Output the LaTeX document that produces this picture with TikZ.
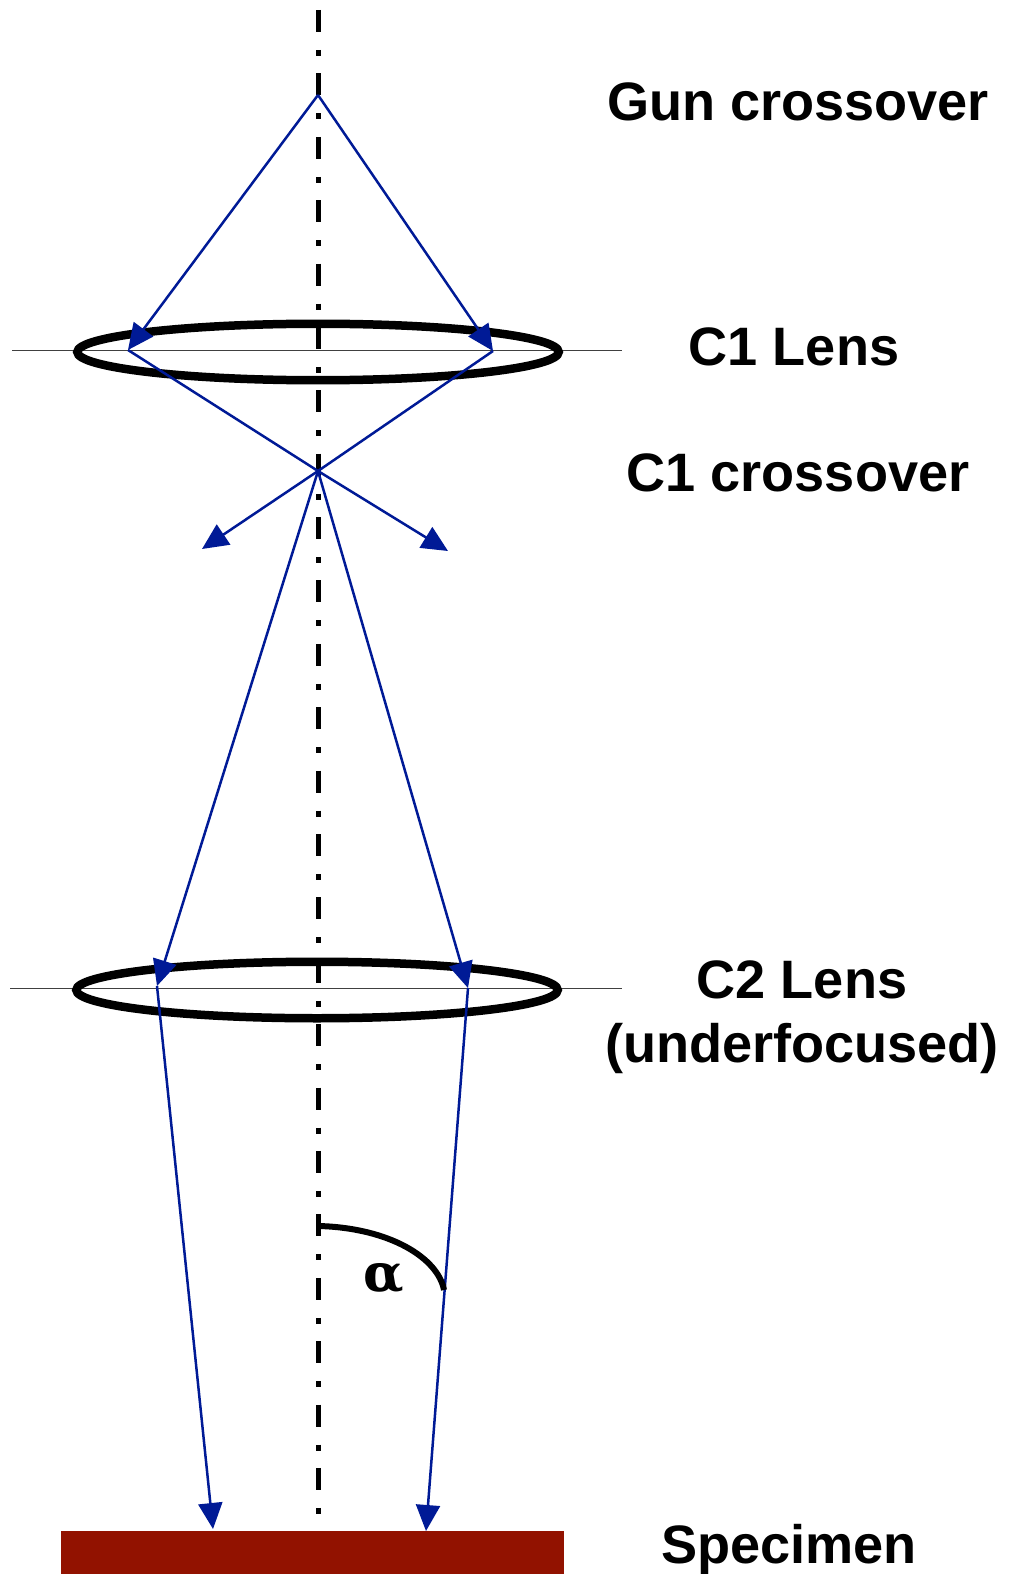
\documentclass[tikz,border=0pt]{standalone}
\usepackage{fontspec}
\setmainfont{Liberation Sans}
\newfontfamily\alphafont{DejaVu Serif}
\usetikzlibrary{arrows.meta, shapes.geometric}
\definecolor{raycol}{HTML}{001A96}
\definecolor{specimencol}{HTML}{921200}

\begin{document}
\begin{tikzpicture}[
  x=0.02cm, y=-0.02cm,
  lens/.style={ellipse, draw, line width=0.17cm, inner sep=0pt, minimum width=9.63cm, minimum height=1.13cm},
  title/.style={font=\fontsize{30.8}{36.7}\selectfont\bfseries, align=center, inner sep=0pt},
  ray/.style={raycol, line width=0.05cm},
  rayarrow/.style={ray, -{Triangle[length=0.52cm, width=0.48cm]}},
  plane/.style={black!75, line width=0.02cm},
  axis/.style={line width=0.1cm, dash pattern=on 0.44cm off 0.36cm on 0.12cm off 0.348cm}
]
\useasboundingbox (0,0) rectangle (1018,1574);

\coordinate (axistop) at (318,10);
\coordinate (axisbot) at (318,1533);
\coordinate (gun)     at (318,95);
\coordinate (c1l)     at (128,350);
\coordinate (c1r)     at (493,351);
\coordinate (cross)   at (318,471);
\coordinate (divl)    at (202,549);
\coordinate (divr)    at (448,551);
\coordinate (c2l)     at (157,986);
\coordinate (c2r)     at (468,988);
\coordinate (spl)     at (213,1529);
\coordinate (spr)     at (426,1531);
\coordinate (arcstart) at (319,1226);
\coordinate (arcend)  at (444,1290);

\draw[axis] (axistop) -- (axisbot);

\node[fill=specimencol, inner sep=0pt, minimum width=10.06cm, minimum height=0.86cm] (specimen) at (312.5,1552.5) {};

\coordinate (p1l) at (12,350.5);
\coordinate (p1r) at (622,350.5);
\coordinate (p2l) at (10,988);
\coordinate (p2r) at (622,988);
\draw[plane] (p1l) -- (p1r);
\draw[plane] (p2l) -- (p2r);

\node[lens] (c1lens) at (318,352) {};
\node[lens] (c2lens) at (317,990) {};

\draw[rayarrow] (gun) -- (c1l);
\draw[rayarrow] (gun) -- (c1r);
\draw[ray] (c1l) -- (cross);
\draw[ray] (c1r) -- (cross);
\draw[rayarrow] (cross) -- (divl);
\draw[rayarrow] (cross) -- (divr);
\draw[rayarrow] (cross) -- (c2l);
\draw[rayarrow] (cross) -- (c2r);
\draw[rayarrow] (c2l) -- (spl);
\draw[rayarrow] (c2r) -- (spr);

\draw[line width=0.12cm] (arcstart) .. controls (390,1228) and (438,1258) .. (arcend);

\node[font=\fontsize{30}{34}\selectfont\alphafont\bfseries] (alpha) at (384,1278) {α};

\node[title] (gunlabel)  at (798,102)  {Gun crossover};
\node[title] (c1label)   at (794,347)  {C1 Lens};
\node[title] (crosslabel) at (798,473) {C1 crossover};
\node[title] (c2label)   at (802,1017) {C2 Lens\\(underfocused)};
\node[title] (speclabel) at (789,1549) {Specimen};
\end{tikzpicture}
\end{document}
